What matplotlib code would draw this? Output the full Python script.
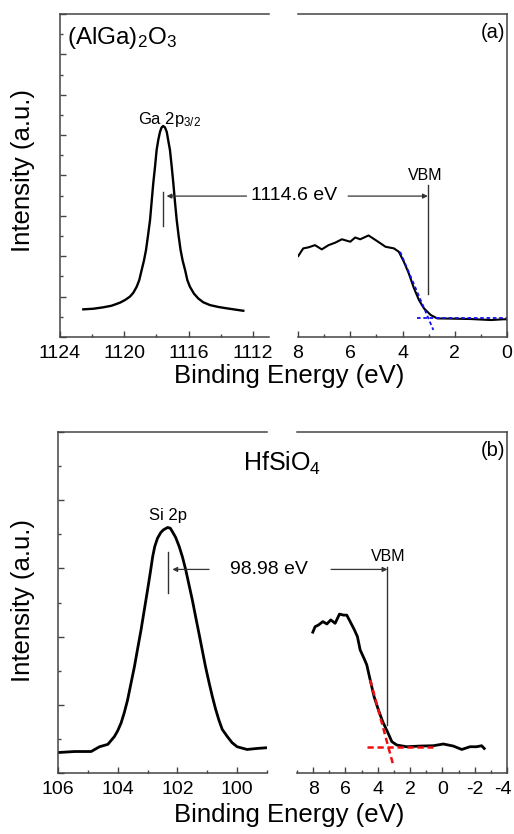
import matplotlib
matplotlib.use("Agg")
import matplotlib.pyplot as plt
from matplotlib.ticker import MultipleLocator, NullFormatter
from matplotlib.transforms import ScaledTranslation

plt.rcParams['font.family'] = ['Liberation Sans', 'DejaVu Sans']
plt.rcParams['mathtext.fontset'] = 'custom'
plt.rcParams['mathtext.rm'] = 'Liberation Sans'
plt.rcParams['mathtext.it'] = 'Liberation Sans:italic'
plt.rcParams['mathtext.bf'] = 'Liberation Sans:bold'
plt.rcParams['axes.unicode_minus'] = False

# ---------------- data: panel (a) ----------------
ga_be = [1122.55, 1121.93, 1121.31, 1120.79, 1120.27, 1119.96, 1119.65, 1119.44,
         1119.23, 1119.07, 1118.92, 1118.78, 1118.65, 1118.53, 1118.40, 1118.30,
         1118.20, 1118.09, 1117.99, 1117.89, 1117.78, 1117.68, 1117.58, 1117.47,
         1117.36, 1117.27, 1117.16, 1117.05, 1116.95, 1116.85, 1116.74, 1116.62,
         1116.50, 1116.37, 1116.22, 1116.08, 1115.92, 1115.67, 1115.40, 1115.09,
         1114.67, 1114.16, 1113.63, 1113.12, 1112.60]
ga_int = [1.37, 1.40, 1.47, 1.55, 1.70, 1.83, 2.00, 2.19,
          2.49, 2.82, 3.32, 3.78, 4.31, 5.00, 5.79, 6.70,
          7.61, 8.43, 9.26, 9.75, 10.16, 10.38, 10.45, 10.38,
          10.16, 9.75, 9.26, 8.43, 7.61, 6.70, 5.79, 5.00,
          4.31, 3.78, 3.32, 2.82, 2.49, 2.15, 1.91, 1.72,
          1.58, 1.49, 1.42, 1.36, 1.30]

vb_a_be = [7.99, 7.80, 7.60, 7.35, 7.09, 6.83, 6.58, 6.32, 6.00, 5.81, 5.62, 5.30,
           4.97, 4.65, 4.33, 4.14, 3.95, 3.76, 3.56, 3.37, 3.18, 2.92, 2.67, 2.15,
           1.38, 0.62, 0.10, 0.0]
vb_a_int = [4.01, 4.39, 4.44, 4.55, 4.34, 4.55, 4.67, 4.84, 4.72, 4.93, 4.84, 5.03,
            4.75, 4.47, 4.39, 4.22, 3.73, 3.15, 2.41, 1.83, 1.42, 1.09, 0.92, 0.91,
            0.89, 0.84, 0.88, 0.87]

fit_a_edge_x = [4.09, 2.82]
fit_a_edge_y = [4.22, 0.35]
fit_a_base_x = [3.46, 0.0]
fit_a_base_y = [0.92, 0.92]

vbm_a = 3.03
core_a = 1117.62
delta_a = "1114.6 eV"

# ---------------- data: panel (b) ----------------
si_be = [106.0, 105.44, 104.89, 104.61, 104.33, 104.11, 104.0, 103.89, 103.78,
         103.67, 103.56, 103.44, 103.33, 103.22, 103.11, 103.0, 102.91, 102.83,
         102.76, 102.67, 102.56, 102.47, 102.33, 102.24, 102.17, 102.06, 101.94,
         101.83, 101.72, 101.61, 101.5, 101.39, 101.28, 101.17, 101.06, 100.94,
         100.83, 100.72, 100.61, 100.5, 100.33, 100.17, 100.0, 99.67, 99.33, 99.02]
si_int = [0.60, 0.63, 0.63, 0.77, 0.84, 1.07, 1.24, 1.46, 1.77,
          2.14, 2.61, 3.12, 3.66, 4.19, 4.78, 5.37, 5.87, 6.34,
          6.64, 6.88, 7.05, 7.13, 7.20, 7.18, 7.08, 6.91, 6.64,
          6.33, 5.95, 5.51, 5.07, 4.58, 4.10, 3.61, 3.12, 2.65,
          2.24, 1.87, 1.55, 1.28, 1.07, 0.89, 0.77, 0.69, 0.72, 0.74]

vb_b_be = [8.02, 7.88, 7.67, 7.40, 7.15, 6.91, 6.64, 6.37, 6.12, 5.92, 5.71, 5.46,
           5.26, 5.09, 4.85, 4.68, 4.47, 4.23, 3.96, 3.69, 3.40, 3.13, 2.82, 2.21,
           1.38, 0.56, -0.06, -0.68, -1.20, -1.71, -2.12, -2.43, -2.59]
vb_b_int = [4.13, 4.29, 4.34, 4.44, 4.37, 4.49, 4.39, 4.66, 4.63, 4.63, 4.44, 4.21,
            4.00, 3.61, 3.36, 3.17, 2.73, 2.24, 1.85, 1.50, 1.21, 0.92, 0.82, 0.77,
            0.79, 0.80, 0.85, 0.79, 0.69, 0.77, 0.77, 0.80, 0.72]

fit_b_edge_x = [4.47, 3.07]
fit_b_edge_y = [2.73, 0.28]
fit_b_base_x = [4.68, 0.56]
fit_b_base_y = [0.77, 0.77]

vbm_b = 3.40
core_b = 102.31
delta_b = "98.98 eV"

# ---------------- layout ----------------
W, H = 514, 834
fig = plt.figure(figsize=(W / 100, H / 100), dpi=100)


def ax_px(x0, x1, ytop, ybot):
    return fig.add_axes([x0 / W, 1 - ybot / H, (x1 - x0) / W, (ybot - ytop) / H])


SP = '#444444'
LC = '#333333'


def style(ax, side):
    for s in ax.spines.values():
        s.set_color(SP)
        s.set_linewidth(1.1)
    ax.tick_params(which='both', direction='in', colors=SP, labelcolor='black',
                   labelsize=14, pad=6, width=1.0)
    ax.tick_params(which='major', length=4)
    ax.tick_params(which='minor', length=2.2)
    ax.yaxis.set_major_formatter(NullFormatter())
    if side == 'left':
        ax.spines['right'].set_visible(False)
        ax.yaxis.set_major_locator(MultipleLocator(2))
        ax.yaxis.set_minor_locator(MultipleLocator(1))
        ax.tick_params(axis='y', which='both', right=False)
    else:
        ax.spines['left'].set_visible(False)
        ax.tick_params(axis='y', which='both', left=False, right=False)


# ---- panel (a)
axl = ax_px(60, 269, 14, 337)
axr = ax_px(298, 507, 14, 337)
style(axl, 'left')
style(axr, 'right')
axl.set_xlim(1124, 1111)
axl.set_ylim(0, 16)
axr.set_xlim(8, 0)
axr.set_ylim(0, 16)
axl.xaxis.set_major_locator(MultipleLocator(4))
axl.xaxis.set_minor_locator(MultipleLocator(2))
axr.xaxis.set_major_locator(MultipleLocator(2))
axr.xaxis.set_minor_locator(MultipleLocator(1))

axl.plot(ga_be, ga_int, color='black', lw=1.7)
axr.plot(vb_a_be, vb_a_int, color='black', lw=1.5)
axr.plot(fit_a_edge_x, fit_a_edge_y, color='#1010ee', lw=1.3, ls=(0, (2, 1.5)))
axr.plot(fit_a_base_x, fit_a_base_y, color='#1010ee', lw=1.3, ls=(0, (2, 1.5)))

axl.plot([core_a, core_a], [5.50, 7.19], color=LC, lw=1.0)
axl.annotate('', xy=(1117.37, 6.98), xytext=(1112.4, 6.98), annotation_clip=False,
             arrowprops=dict(arrowstyle='-|>', color=LC, lw=0.9, mutation_scale=7,
                             shrinkA=0, shrinkB=0))
axr.plot([vbm_a, vbm_a], [2.13, 7.52], color=LC, lw=1.0)
axr.annotate('', xy=(vbm_a, 6.98), xytext=(6.08, 6.98), annotation_clip=False,
             arrowprops=dict(arrowstyle='-|>', color=LC, lw=0.9, mutation_scale=7,
                             shrinkA=0, shrinkB=0))
fig.text(294 / W, 1 - 196 / H, delta_a, fontsize=14, ha='center', va='center')
axr.text(3.12, 8.0, 'VBM', fontsize=11.5, ha='center', va='center')
axl.text(1117.2, 10.75, r'Ga 2p$_{3/2}$', fontsize=12, ha='center', va='center')
axl.text(0.035, 0.925, r'(AlGa)$_2$O$_3$', transform=axl.transAxes, fontsize=17.5,
         ha='left', va='center')
axr.text(0.99, 0.944, '(a)', transform=axr.transAxes, fontsize=14.5, ha='right',
         va='center')
fig.text(23 / W, 1 - 170 / H, 'Intensity (a.u.)', fontsize=18.5, rotation=90,
         ha='center', va='center')
fig.text(289 / W, 1 - 376 / H, 'Binding Energy (eV)', fontsize=18.5, ha='center',
         va='center')

# ---- panel (b)
bxl = ax_px(58, 267, 432, 773)
bxr = ax_px(297, 507, 432, 773)
style(bxl, 'left')
style(bxr, 'right')
bxl.set_xlim(106, 99)
bxl.set_ylim(0, 10)
bxr.set_xlim(9, -4)
bxr.set_ylim(0, 10)
bxl.xaxis.set_major_locator(MultipleLocator(2))
bxl.xaxis.set_minor_locator(MultipleLocator(1))
bxr.xaxis.set_major_locator(MultipleLocator(2))
bxr.xaxis.set_minor_locator(MultipleLocator(1))

bxl.plot(si_be, si_int, color='black', lw=2.0)
bxr.plot(vb_b_be, vb_b_int, color='black', lw=2.0)
bxr.plot(fit_b_edge_x, fit_b_edge_y, color='#ee1010', lw=1.8, ls=(0, (2.5, 1.5)))
bxr.plot(fit_b_base_x, fit_b_base_y, color='#ee1010', lw=1.8, ls=(0, (2.5, 1.5)))

bxl.plot([core_b, core_b], [5.29, 6.49], color=LC, lw=1.0)
bxl.annotate('', xy=(102.17, 5.97), xytext=(100.94, 5.97), annotation_clip=False,
             arrowprops=dict(arrowstyle='-|>', color=LC, lw=0.9, mutation_scale=7,
                             shrinkA=0, shrinkB=0))
bxr.plot([vbm_b, vbm_b], [1.41, 6.04], color=LC, lw=1.0)
bxr.annotate('', xy=(vbm_b, 5.97), xytext=(6.89, 5.97), annotation_clip=False,
             arrowprops=dict(arrowstyle='-|>', color=LC, lw=0.9, mutation_scale=7,
                             shrinkA=0, shrinkB=0))
fig.text(269 / W, 1 - 569 / H, delta_b, fontsize=14, ha='center', va='center')
bxr.text(3.33, 6.36, 'VBM', fontsize=11.5, ha='center', va='center')
bxl.text(102.33, 7.55, 'Si 2p', fontsize=12, ha='center', va='center')
fig.text(243 / W, 1 - 463 / H, r'HfSiO$_4$', fontsize=18, ha='left', va='center')
fig.text(505 / W, 1 - 450 / H, '(b)', fontsize=14.5, ha='right', va='center')
fig.text(23 / W, 1 - 600 / H, 'Intensity (a.u.)', fontsize=18.5, rotation=90,
         ha='center', va='center')
fig.text(289 / W, 1 - 815 / H, 'Binding Energy (eV)', fontsize=18.5, ha='center',
         va='center')

# keep the edge tick label "-4" inside the canvas
fig.canvas.draw()
for tk in bxr.xaxis.get_major_ticks():
    if tk.label1.get_text() == '-4':
        tk.label1.set_transform(tk.label1.get_transform() +
                                ScaledTranslation(-3 / 72, 0, fig.dpi_scale_trans))

fig.savefig('out.png', dpi=100)
